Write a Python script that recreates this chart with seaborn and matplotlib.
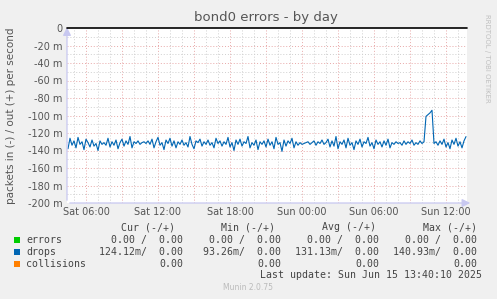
import numpy as np
import pandas as pd
import matplotlib
matplotlib.use("Agg")
import matplotlib.pyplot as plt
import matplotlib.dates as mdates
import seaborn as sns

# ---- data (milli-packets per second, "in" direction drawn negative) ----
start_time = "2025-06-14 04:30"
step_minutes = 10
drops_in = [
    -138, -126, -134, -129, -137, -125, -133, -130, -139, -127, -131, -136, -128, -135, -132, -140, -129, -133, -131, -134,
    -126, -136, -130, -134, -128, -138, -131, -127, -135, -129, -133, -124, -137, -130, -132, -129, -133, -131, -130, -132,
    -129, -133, -127, -137, -130, -125, -134, -131, -139, -128, -132, -126, -135, -129, -137, -130, -133, -128, -134, -131,
    -136, -124, -133, -138, -129, -131, -127, -135, -130, -133, -128, -134, -131, -137, -126, -132, -129, -135, -130, -133,
    -125, -136, -131, -140, -128, -133, -127, -135, -130, -132, -124, -137, -131, -134, -128, -139, -130, -133, -129, -136,
    -127, -134, -130, -138, -125, -133, -131, -141, -128, -135, -129, -132, -126, -137, -130, -134, -131, -133, -132, -131,
    -130, -133, -131, -129, -134, -130, -132, -128, -133, -131, -127, -136, -129, -135, -124, -138, -130, -133, -128, -137,
    -126, -134, -131, -139, -129, -133, -127, -136, -130, -132, -125, -135, -131, -138, -128, -133, -130, -136, -129, -134,
    -127, -137, -131, -133, -130, -132, -131, -134, -129, -133, -130, -132, -128, -134, -131, -133, -129, -132, -130, -101,
    -99, -97, -94, -132, -130, -134, -129, -133, -127, -136, -131, -138, -128, -133, -126, -135, -130, -137, -129, -124.12,
]
y_ticks = [0, -20, -40, -60, -80, -100, -120, -140, -160, -180, -200]
y_tick_labels = ["0", "-20 m", "-40 m", "-60 m", "-80 m", "-100 m", "-120 m",
                 "-140 m", "-160 m", "-180 m", "-200 m"]

legend_names = ["errors", "drops", "collisions"]
legend_colors = ["#00CC00", "#0066B3", "#FF8000"]
cur_vals = ["0.00 /  0.00", "124.12m/  0.00", "0.00"]
min_vals = ["0.00 /  0.00", "93.26m/  0.00", "0.00"]
avg_vals = ["0.00 /  0.00", "131.13m/  0.00", "0.00"]
max_vals = ["0.00 /  0.00", "140.93m/  0.00", "0.00"]

times = pd.date_range(start_time, periods=len(drops_in), freq=f"{step_minutes}min")
df = pd.DataFrame({"time": times, "drops": drops_in})

sns.set_theme(style="white")
plt.rcParams["font.family"] = ["DejaVu Sans"]

W, H = 497, 299
fig = plt.figure(figsize=(W / 100, H / 100), dpi=100, facecolor="#F0F0F0")
ax = fig.add_axes([67 / W, 1 - 203 / H, 400 / W, 175 / H])
ax.set_facecolor("white")

x0 = pd.Timestamp("2025-06-14 04:25")
x1 = pd.Timestamp("2025-06-15 13:45")
ax.set_xlim(x0, x1)
ax.set_ylim(-200, 0)

# grid: minor grey, major red
minor_col = "#CFCFCF"
major_col = "#E8A8A8"
for h in pd.date_range("2025-06-14 05:00", "2025-06-15 13:00", freq="1h"):
    col = major_col if h.hour % 3 == 0 else minor_col
    ax.axvline(h, color=col, lw=0.7, ls=(0, (1, 2)), zorder=1)
for v in range(-190, 0, 10):
    col = major_col if v % 20 == 0 else minor_col
    ax.axhline(v, color=col, lw=0.7, ls=(0, (1, 2)), zorder=1)

sns.lineplot(data=df, x="time", y="drops", ax=ax, color="#0066B3", lw=0.8, zorder=3)
ax.axhline(0, color="black", lw=1.2, zorder=4, clip_on=False)

for s in ax.spines.values():
    s.set_visible(False)

# axis arrows
axis_col = "#C8C8F0"
ax.annotate("", xy=(x0, 4), xytext=(x0, -200),
            arrowprops=dict(arrowstyle="-|>,head_length=0.4,head_width=0.2", color=axis_col, lw=0.9),
            annotation_clip=False)
ax.annotate("", xy=(pd.Timestamp("2025-06-15 14:15"), -200), xytext=(x0, -200),
            arrowprops=dict(arrowstyle="-|>,head_length=0.4,head_width=0.2", color=axis_col, lw=0.9),
            annotation_clip=False)

ax.set_yticks(y_ticks)
ax.set_yticklabels(y_tick_labels)
ax.xaxis.set_major_locator(mdates.HourLocator(byhour=[0, 6, 12, 18]))
ax.xaxis.set_major_formatter(mdates.DateFormatter("%a %H:%M"))
ax.tick_params(axis="both", labelsize=7, colors="#555555", length=0, pad=3)
ax.set_xlabel("")
ax.set_ylabel("packets in (-) / out (+) per second", fontsize=7.5, color="#555555", labelpad=9)

fig.text(266 / W, 1 - 18 / H, "bond0 errors - by day", ha="center", va="center",
         fontsize=9.5, color="#555555")
fig.text(487 / W, 1 - 58 / H, "RRDTOOL / TOBI OETIKER", rotation=270, ha="center", va="center",
         fontsize=5, color="#C0C0C0")

mono = "DejaVu Sans Mono"
tc = "#444444"
fs = 7.1
def fy(y):
    return 1 - y / H

headers = ["Cur (-/+)", "Min (-/+)", "Avg (-/+)", "Max (-/+)"]
col_right = [183, 281, 379, 477]
head_right = [175, 275, 376, 477]
for hdr, xr in zip(headers, head_right):
    fig.text(xr / W, fy(227), hdr, ha="right", va="center", family=mono, fontsize=fs, color=tc)

rows_y = [240, 252, 264]
for i, (name, colr) in enumerate(zip(legend_names, legend_colors)):
    y = rows_y[i]
    fig.patches.append(plt.Rectangle((14 / W, fy(y + 3)), 6 / W, 6 / H, transform=fig.transFigure,
                                     facecolor=colr, edgecolor="none"))
    fig.text(26 / W, fy(y), name, ha="left", va="center", family=mono, fontsize=fs, color=tc)
    for vals, xr in zip([cur_vals, min_vals, avg_vals, max_vals], col_right):
        fig.text(xr / W, fy(y), vals[i], ha="right", va="center", family=mono, fontsize=fs, color=tc)

fig.text(482 / W, fy(275), "Last update: Sun Jun 15 13:40:10 2025", ha="right", va="center",
         family=mono, fontsize=fs, color=tc)
fig.text(248 / W, fy(288), "Munin 2.0.75", ha="center", va="center", fontsize=5.5, color="#BBBBBB")

fig.savefig("out.png", dpi=100, facecolor=fig.get_facecolor())
